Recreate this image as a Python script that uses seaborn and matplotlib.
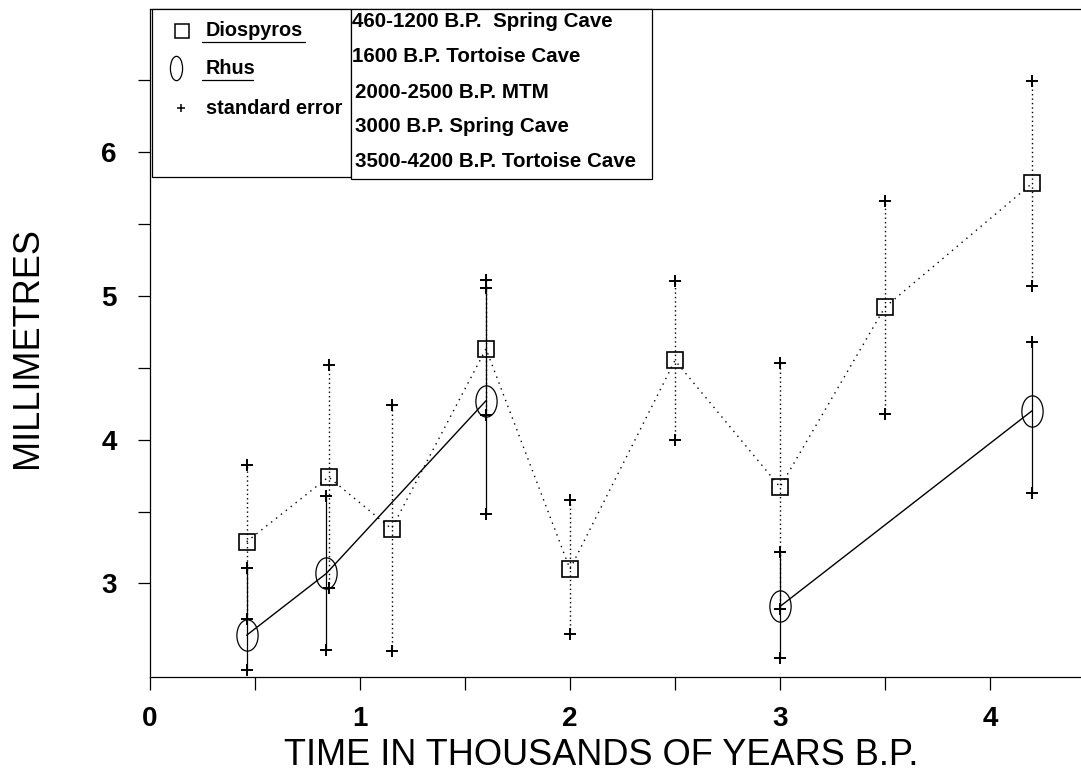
import numpy as np
import pandas as pd
import matplotlib
matplotlib.use("Agg")
import matplotlib.pyplot as plt
from matplotlib.path import Path
from matplotlib.transforms import Affine2D
from matplotlib.lines import Line2D
from matplotlib.patches import Rectangle
from matplotlib.ticker import MultipleLocator, FixedLocator
import seaborn as sns

# Seed size (mm) against age (thousands of years B.P.)
dio_age = [0.46, 0.85, 1.15, 1.6, 2.0, 2.5, 3.0, 3.5, 4.2]
dio_mean = [3.29, 3.74, 3.38, 4.63, 3.10, 4.55, 3.67, 4.92, 5.78]
dio_low = [2.75, 2.97, 2.53, 4.17, 2.65, 4.00, 2.82, 4.18, 5.07]
dio_high = [3.82, 4.52, 4.24, 5.11, 3.58, 5.10, 4.53, 5.66, 6.49]

rhus_age = [0.46, 0.84, 1.6, 3.0, 4.2]
rhus_mean = [2.64, 3.07, 4.27, 2.84, 4.20]
rhus_low = [2.40, 2.54, 3.48, 2.48, 3.63]
rhus_high = [3.11, 3.61, 5.05, 3.22, 4.68]
# Rhus series is broken between 1600 and 3000 B.P.
rhus_run = [1, 1, 1, 2, 2]

key_labels = ["Diospyros", "Rhus", "standard error"]
site_labels = [
    "460-1200 B.P.  Spring Cave",
    "1600 B.P. Tortoise Cave",
    "2000-2500 B.P. MTM",
    "3000 B.P. Spring Cave",
    "3500-4200 B.P. Tortoise Cave",
]
x_label = "TIME IN THOUSANDS OF YEARS B.P."
y_label = "MILLIMETRES"

sns.set_theme(style="white")
plt.rcParams["font.family"] = ["Liberation Sans", "DejaVu Sans"]
plt.rcParams["axes.linewidth"] = 0.9
for key in ("text.color", "axes.labelcolor", "xtick.color", "ytick.color",
            "axes.edgecolor"):
    plt.rcParams[key] = "black"

dio = pd.DataFrame({"age": dio_age, "mean": dio_mean, "low": dio_low, "high": dio_high})
rhus = pd.DataFrame({"age": rhus_age, "mean": rhus_mean, "low": rhus_low,
                     "high": rhus_high, "run": rhus_run})

W, H = 1081, 773
fig = plt.figure(figsize=(W / 100, H / 100), dpi=100)
ax = fig.add_axes([150 / W, 96 / H, 931 / W, 668 / H])

# tall ellipse used for the Rhus means
ellipse = Affine2D().scale(0.68, 1.0).transform_path(Path.unit_circle())
ellipse_key = Affine2D().scale(0.5, 1.0).transform_path(Path.unit_circle())

# standard error bars
ax.vlines(dio["age"], dio["low"], dio["high"], colors="black", linewidth=1.0,
          linestyles=(0, (1, 2.2)), zorder=2)
ax.vlines(rhus["age"], rhus["low"], rhus["high"], colors="black", linewidth=0.9,
          zorder=2)

# connecting lines with mean markers
sns.lineplot(data=dio, x="age", y="mean", ax=ax, sort=False, estimator=None,
             color="black", linewidth=1.0, linestyle=(0, (1, 3.5)),
             marker="s", markersize=11.5, markerfacecolor="none",
             markeredgecolor="black", markeredgewidth=1.2, zorder=3)
sns.lineplot(data=rhus, x="age", y="mean", units="run", ax=ax, sort=False,
             estimator=None, color="black", linewidth=1.0, linestyle="-",
             marker=ellipse, markersize=22.5, markerfacecolor="none",
             markeredgecolor="black", markeredgewidth=0.9, zorder=3)

# '+' ends of the error bars
for df in (dio, rhus):
    for col in ("low", "high"):
        sns.scatterplot(x=df["age"], y=df[col], ax=ax, marker="+", s=85,
                        color="black", linewidth=1.4, zorder=4, legend=False)

ax.set_xlim(0, 931 / 210)
ax.set_ylim(2.35, 2.35 + 668 / 143.9)

ax.xaxis.set_major_locator(MultipleLocator(1))
ax.xaxis.set_minor_locator(MultipleLocator(0.5))
ax.yaxis.set_major_locator(FixedLocator([3, 4, 5, 6]))
ax.yaxis.set_minor_locator(FixedLocator([3.5, 4.5, 5.5, 6.5]))
ax.tick_params(which="both", direction="out", length=9, width=0.9, color="black")
ax.tick_params(axis="x", which="major", pad=12)
ax.tick_params(axis="y", which="major", pad=15)
ax.tick_params(which="minor", labelleft=False, labelbottom=False)
for lab in ax.get_xticklabels() + ax.get_yticklabels():
    lab.set_fontsize(20)
    lab.set_fontweight("bold")
    lab.set_color("black")
ax.xaxis.set_tick_params(bottom=True, which="both")
ax.yaxis.set_tick_params(left=True, which="both")

ax.spines["right"].set_visible(False)
for s in ("left", "bottom", "top"):
    ax.spines[s].set_color("black")

ax.set_xlabel(x_label, fontsize=26, color="black")
ax.set_ylabel(y_label, fontsize=26, color="black")
ax.xaxis.set_label_coords(0.485, -0.092)
ax.yaxis.set_label_coords(-0.1124, 0.493)
ax.set_title("")


# key boxes in the upper-left corner (pixel layout, origin at the top left)
def fxy(x, y):
    return x / W, 1 - y / H


tf = fig.transFigure
for (x0, y0, x1, y1) in [(151.7, 8.5, 350.7, 177.0), (350.7, 8.5, 651.7, 179.0)]:
    (a, b), (c, d) = fxy(x0, y1), fxy(x1, y0)
    fig.add_artist(Rectangle((a, b), c - a, d - b, transform=tf, facecolor="white",
                             edgecolor="black", linewidth=0.9, zorder=10))

key_marks = [("s", 9.5, 1.1), (ellipse_key, 17.5, 0.9), ("+", 6.0, 1.1)]
key_rows = [30.7, 68.0, 108.0]
key_mark_x = [181.7, 175.5, 180.7]
underline = [305.0, 253.0, None]
for lab, (m, ms, mew), yy, mx, ul in zip(key_labels, key_marks, key_rows, key_mark_x, underline):
    fig.add_artist(Line2D([fxy(mx, yy)[0]], [fxy(mx, yy)[1]], transform=tf,
                          marker=m, markersize=ms, markerfacecolor="none",
                          markeredgecolor="black", markeredgewidth=mew,
                          linestyle="none", zorder=11))
    tx, ty = fxy(206.0, yy)
    fig.text(tx, ty, lab, ha="left", va="center", fontsize=14.3, fontweight="bold",
             color="black", zorder=11)
    if ul is not None:
        (u0, uy), (u1, _) = fxy(201.7, yy + 11.5), fxy(ul, yy + 11.5)
        fig.add_artist(Line2D([u0, u1], [uy, uy], transform=tf, color="black",
                              linewidth=0.9, zorder=11))

site_rows = [21.7, 56.7, 92.7, 126.7, 161.7]
site_x = [352.5, 352.5, 355.0, 355.0, 355.0]
for lab, yy, xx in zip(site_labels, site_rows, site_x):
    tx, ty = fxy(xx, yy)
    fig.text(tx, ty, lab, ha="left", va="center", fontsize=14.8, fontweight="bold",
             color="black", zorder=11)

fig.savefig("out.png", dpi=100, facecolor="white")
